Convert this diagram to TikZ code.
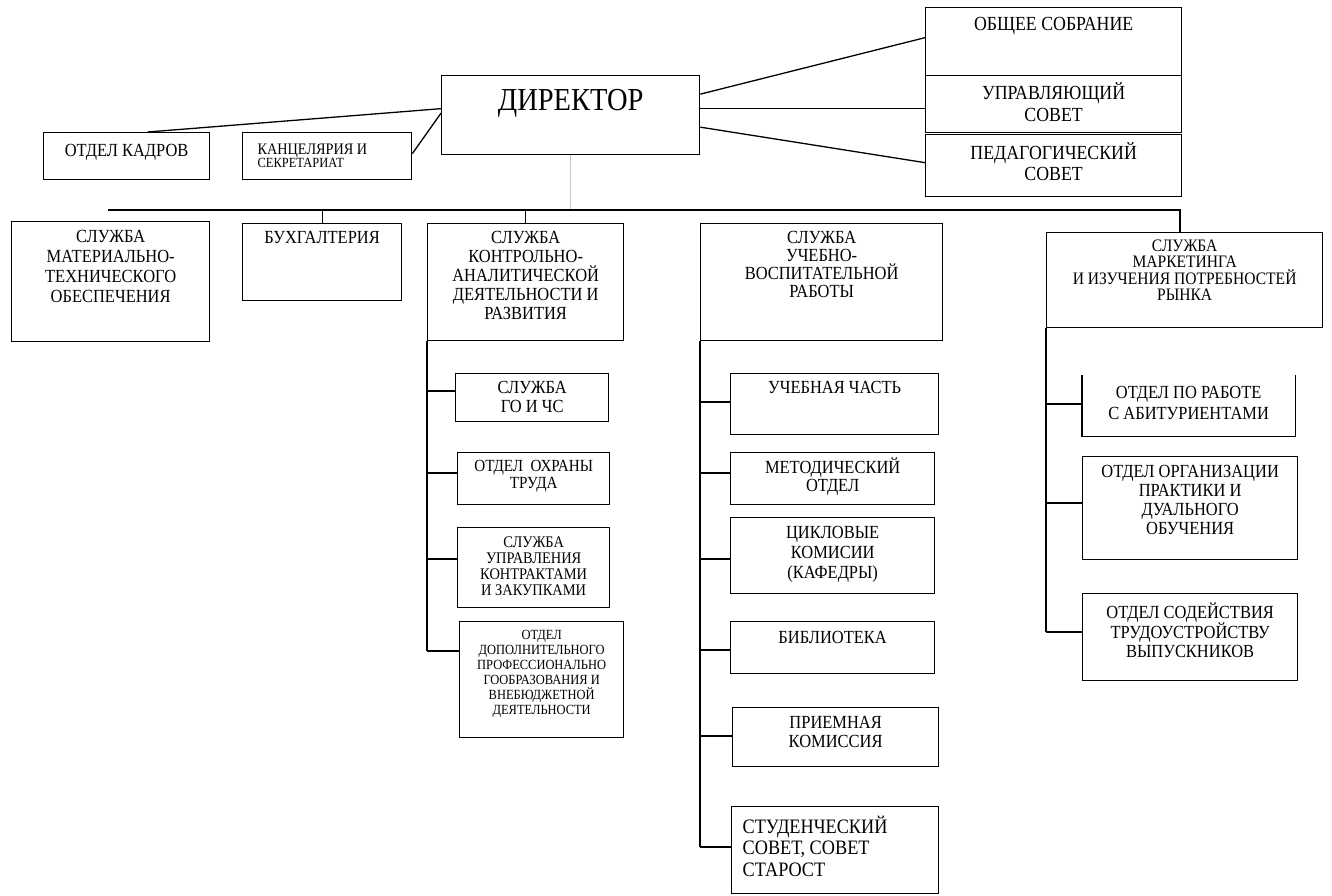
\documentclass[tikz,border=0pt]{standalone}
\usepackage{fontspec}
\setmainfont[FakeStretch=0.89]{Liberation Serif}
\usetikzlibrary{calc}
\newcommand{\orgcell}[4]{\parbox[t][#2pt][t]{#1pt}{\centering\vspace*{#3pt}#4\par}}
\newcommand{\orglcell}[5]{\parbox[t][#2pt][t]{#1pt}{\raggedright\leftskip=#4pt\vspace*{#3pt}#5\par}}
\begin{document}
\begin{tikzpicture}[x=1pt, y=-1pt,
	box/.style={draw, line width=1.3pt, inner sep=0pt, anchor=north west, font=\fontsize{18.5}{18.5}\selectfont},
	link/.style={line width=1.3pt},
	]
	\useasboundingbox (0,0) rectangle (1332,895);

	% top level
	\node[box, font=\fontsize{32}{32}\selectfont] (dir) at (441,75) {\orgcell{258}{79}{14}{ДИРЕКТОР}};
	\node[box] (kadry) at (43,132) {\orgcell{166}{47}{12}{ОТДЕЛ КАДРОВ}};
	\node[box, font=\fontsize{16}{13}\selectfont] (kanc) at (242,132) {\orglcell{169}{47}{11}{15}{КАНЦЕЛЯРИЯ И\\{\fontsize{14}{13}\selectfont СЕКРЕТАРИАТ}}};
	\node[box, font=\fontsize{20}{21}\selectfont] (sob) at (925,7) {\orgcell{256}{68}{10}{ОБЩЕЕ СОБРАНИЕ}};
	\node[box, font=\fontsize{20}{22}\selectfont] (upr) at (925,75) {\orgcell{256}{57}{7}{УПРАВЛЯЮЩИЙ\\СОВЕТ}};
	\node[box, font=\fontsize{20}{21}\selectfont] (ped) at (925,134) {\orgcell{256}{62}{8}{ПЕДАГОГИЧЕСКИЙ\\СОВЕТ}};

	% services
	\node[box, font=\fontsize{18.5}{20}\selectfont] (mat) at (11,221) {\orgcell{198}{120}{9}{СЛУЖБА\\МАТЕРИАЛЬНО-\\ТЕХНИЧЕСКОГО\\ОБЕСПЕЧЕНИЯ}};
	\node[box] (buh) at (242,223) {\orgcell{159}{77}{8}{БУХГАЛТЕРИЯ}};
	\node[box, font=\fontsize{18.5}{19}\selectfont] (kontr) at (427,223) {\orgcell{196}{117}{8}{СЛУЖБА\\КОНТРОЛЬНО-\\АНАЛИТИЧЕСКОЙ\\ДЕЯТЕЛЬНОСТИ И\\РАЗВИТИЯ}};
	\node[box, font=\fontsize{18.5}{18}\selectfont] (uch) at (700,223) {\orgcell{242}{117}{8}{СЛУЖБА\\УЧЕБНО-\\ВОСПИТАТЕЛЬНОЙ\\РАБОТЫ}};
	\node[box, font=\fontsize{17.5}{16.5}\selectfont] (mark) at (1046,232) {\orgcell{276}{95}{7}{СЛУЖБА\\МАРКЕТИНГА\\И ИЗУЧЕНИЯ ПОТРЕБНОСТЕЙ\\РЫНКА}};

	% control and analysis
	\node[box] (go) at (455,373) {\orgcell{153}{48}{8}{СЛУЖБА\\ГО И ЧС}};
	\node[box, font=\fontsize{17}{17}\selectfont] (ohr) at (457,452) {\orgcell{152}{52}{8}{ОТДЕЛ\ \ ОХРАНЫ\\ТРУДА}};
	\node[box, font=\fontsize{16.2}{16}\selectfont] (zak) at (457,527) {\orgcell{152}{80}{9}{СЛУЖБА\\УПРАВЛЕНИЯ\\КОНТРАКТАМИ\\И ЗАКУПКАМИ}};
	\node[box, font=\fontsize{14}{15}\selectfont] (dop) at (459,621) {\orgcell{164}{116}{9}{ОТДЕЛ\\ДОПОЛНИТЕЛЬНОГО\\ПРОФЕССИОНАЛЬНО\\ГООБРАЗОВАНИЯ И\\ВНЕБЮДЖЕТНОЙ\\ДЕЯТЕЛЬНОСТИ}};

	% teaching
	\node[box] (uchch) at (730,373) {\orgcell{208}{61}{8}{УЧЕБНАЯ ЧАСТЬ}};
	\node[box] (met) at (730,452) {\orgcell{204}{52}{5}{МЕТОДИЧЕСКИЙ\\ОТДЕЛ}};
	\node[box, font=\fontsize{18.5}{20}\selectfont] (cikl) at (730,517) {\orgcell{204}{76}{9}{ЦИКЛОВЫЕ\\КОМИСИИ\\(КАФЕДРЫ)}};
	\node[box] (bib) at (730,621) {\orgcell{204}{52}{10}{БИБЛИОТЕКА}};
	\node[box] (prm) at (732,707) {\orgcell{206}{59}{9}{ПРИЕМНАЯ\\КОМИССИЯ}};
	\node[box, font=\fontsize{20.5}{21.5}\selectfont] (stud) at (731,806) {\orglcell{207}{87}{9}{11}{СТУДЕНЧЕСКИЙ\\СОВЕТ, СОВЕТ\\СТАРОСТ}};

	% marketing
	\node[box, draw=none, font=\fontsize{18.5}{21}\selectfont] (abit) at (1082,375) {\orgcell{212}{60}{11}{ОТДЕЛ ПО РАБОТЕ\\С АБИТУРИЕНТАМИ}};
	\draw[link] (abit.north west) -- (abit.south west) -- (abit.south east) -- (abit.north east);
	\node[box, font=\fontsize{18.5}{19}\selectfont] (org) at (1082,456) {\orgcell{215}{103}{9}{ОТДЕЛ ОРГАНИЗАЦИИ\\ПРАКТИКИ И\\ДУАЛЬНОГО\\ОБУЧЕНИЯ}};
	\node[box] (sod) at (1082,593) {\orgcell{215}{87}{9}{ОТДЕЛ СОДЕЙСТВИЯ\\ТРУДОУСТРОЙСТВУ\\ВЫПУСКНИКОВ}};

	% links
	\draw[link] ([yshift=6.5pt]dir.west) -- ([xshift=21pt]kadry.north);
	\draw[link] ([yshift=2pt]dir.west) -- ([yshift=2.5pt]kanc.east);
	\draw[link] ([yshift=21pt]dir.east) -- ([yshift=4pt]sob.west);
	\draw[link] ([yshift=7pt]dir.east) -- ([yshift=7pt]dir.east -| upr.west);
	\draw[link] ([yshift=-12pt]dir.east) -- ([yshift=3pt]ped.west);

	\coordinate (busL) at (108,210);
	\coordinate (busR) at (1180,210);
	\draw[line width=1pt, gray!45] (dir.south) -- (dir.south |- busL);
	\draw[link] (busL) -- (busR) -- (busR |- mark.north);
	\foreach \n in {buh,kontr}
		\draw[link] (\n.north |- busL) -- (\n.north);

	\draw[link] (kontr.south west) -- ($(kontr.south west |- dop.north west)+(0,30)$);
	\foreach \n/\d in {go/18,ohr/21,zak/32,dop/30}
		\draw[link] ($(kontr.south west |- \n.north west)+(0,\d)$) -- ($(\n.north west)+(0,\d)$);

	\draw[link] (uch.south west) -- ($(uch.south west |- stud.north west)+(0,41)$);
	\foreach \n/\d in {uchch/29,met/21,cikl/42,bib/29,prm/29,stud/41}
		\draw[link] ($(uch.south west |- \n.north west)+(0,\d)$) -- ($(\n.north west)+(0,\d)$);

	\draw[link] (mark.south west) -- ($(mark.south west |- sod.north west)+(0,39)$);
	\foreach \n/\d in {abit/29,org/47,sod/39}
		\draw[link] ($(mark.south west |- \n.north west)+(0,\d)$) -- ($(\n.north west)+(0,\d)$);
\end{tikzpicture}
\end{document}
